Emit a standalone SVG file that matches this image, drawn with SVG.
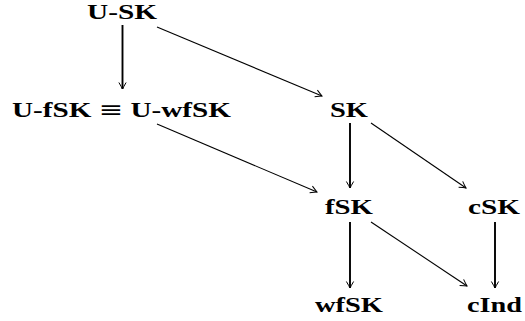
<svg xmlns="http://www.w3.org/2000/svg" width="525" height="321" viewBox="0 0 525 321">
<style>
.lbl{font-family:"Liberation Serif","DejaVu Serif",serif;font-weight:bold;font-size:22px;fill:#000;text-anchor:middle}
.eq{font-family:"DejaVu Serif",serif;font-weight:normal}
.c{stroke:#000;fill:none;stroke-width:1.1}
.v{stroke-width:1.9}
</style>
<defs>
<marker id="ah" markerUnits="userSpaceOnUse" markerWidth="12" markerHeight="12" viewBox="-8 -6 10 12" refX="0" refY="0" orient="auto">
<path d="M-6.5,-3.6 Q-2,-1 0,0 Q-2,1 -6.5,3.6" fill="none" stroke="#000" stroke-width="1"/>
</marker>
</defs>
<rect width="525" height="321" fill="#fff"/>
<g id="connectors">
<line class="c v" x1="122.5" y1="25" x2="122.5" y2="89" marker-end="url(#ah)"/>
<line class="c" x1="157" y1="27" x2="322" y2="96" marker-end="url(#ah)"/>
<line class="c" x1="157" y1="124" x2="317" y2="192" marker-end="url(#ah)"/>
<line class="c v" x1="350" y1="123" x2="350" y2="188" marker-end="url(#ah)"/>
<line class="c" x1="371" y1="123" x2="466" y2="188" marker-end="url(#ah)"/>
<line class="c v" x1="350" y1="222" x2="350" y2="288" marker-end="url(#ah)"/>
<line class="c" x1="371" y1="222" x2="467" y2="286" marker-end="url(#ah)"/>
<line class="c v" x1="495" y1="222" x2="495" y2="288" marker-end="url(#ah)"/>
</g>
<g id="n-usk"><text class="lbl" x="122" y="18.5" textLength="70" lengthAdjust="spacingAndGlyphs">U-SK</text></g>
<g id="n-ufsk"><text class="lbl" x="121.5" y="117" textLength="219" lengthAdjust="spacingAndGlyphs">U-fSK <tspan class="eq">≡</tspan> U-wfSK</text></g>
<g id="n-sk"><text class="lbl" x="349" y="117" textLength="38" lengthAdjust="spacingAndGlyphs">SK</text></g>
<g id="n-fsk"><text class="lbl" x="349" y="214" textLength="48" lengthAdjust="spacingAndGlyphs">fSK</text></g>
<g id="n-csk"><text class="lbl" x="494" y="214" textLength="52" lengthAdjust="spacingAndGlyphs">cSK</text></g>
<g id="n-wfsk"><text class="lbl" x="349" y="312" textLength="68" lengthAdjust="spacingAndGlyphs">wfSK</text></g>
<g id="n-cind"><text class="lbl" x="494.5" y="312" textLength="55" lengthAdjust="spacingAndGlyphs">cInd</text></g>
</svg>
